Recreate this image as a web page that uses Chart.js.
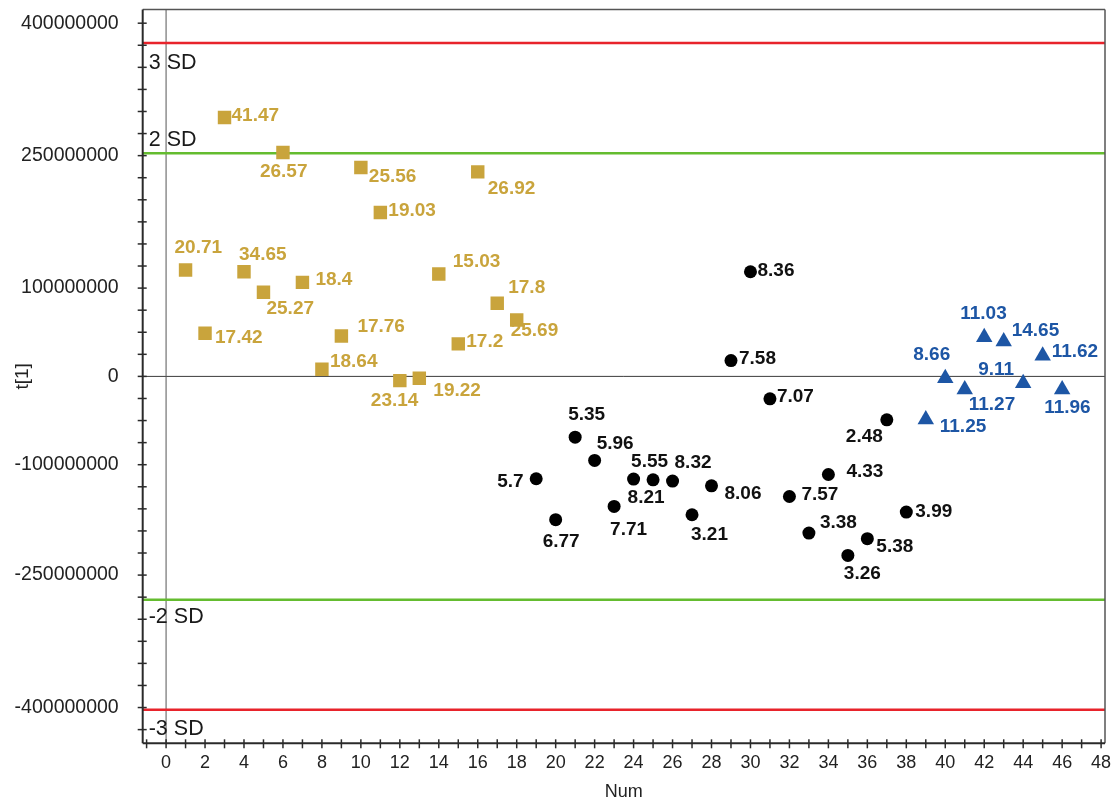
<!DOCTYPE html>
<html>
<head>
<meta charset="utf-8">
<script src="https://cdn.jsdelivr.net/npm/chart.js@4.4.1/dist/chart.umd.min.js"></script>
<style>
  html, body { margin: 0; padding: 0; background: #fff; }
  #wrap { width: 1116px; height: 803px; }
</style>
</head>
<body>
<div id="wrap"><canvas id="scores"></canvas></div>
<script>
// Score plot t[1] vs sample number, three groups
const goldNum = [1, 2, 3, 4, 5, 6, 7, 8, 9, 10, 11, 12, 13, 14, 15, 16, 17, 18];
const goldT = [120500000, 48900000, 293200000, 118500000, 95200000, 253600000, 106500000, 8100000, 45800000,
               236600000, 185700000, -4800000, -2000000, 115900000, 36800000, 231600000, 82800000, 63900000];
const goldLabels = ['20.71', '17.42', '41.47', '34.65', '25.27', '26.57', '18.4', '18.64', '17.76',
                    '25.56', '19.03', '23.14', '19.22', '15.03', '17.2', '26.92', '17.8', '25.69'];

const blackNum = [19, 20, 21, 22, 23, 24, 25, 26, 27, 28, 29, 30, 31, 32, 33, 34, 35, 36, 37, 38];
const blackT = [-115900000, -162300000, -68800000, -95200000, -147300000, -116300000, -117100000, -118500000,
                -156700000, -123900000, 17900000, 118500000, -25400000, -136000000, -177400000, -111100000,
                -202700000, -183800000, -49200000, -153600000];
const blackLabels = ['5.7', '6.77', '5.35', '5.96', '7.71', '8.21', '5.55', '8.32', '3.21', '8.06',
                     '7.58', '8.36', '7.07', '7.57', '3.38', '4.33', '3.26', '5.38', '2.48', '3.99'];

const blueNum = [39, 40, 41, 42, 43, 44, 45, 46];
const blueT = [-48800000, -2100000, -14900000, 44200000, 39400000, -7800000, 23500000, -14900000];
const blueLabels = ['11.25', '8.66', '11.27', '11.03', '14.65', '9.11', '11.62', '11.96'];

// control limits
const sdValues = [377500000, 252800000, -252800000, -377500000];
const sdNames = ['3 SD', '2 SD', '-2 SD', '-3 SD'];

// axis ticks
const xTickValues = [-1, 0, 1, 2, 3, 4, 5, 6, 7, 8, 9, 10, 11, 12, 13, 14, 15, 16, 17, 18, 19, 20, 21, 22, 23, 24,
                     25, 26, 27, 28, 29, 30, 31, 32, 33, 34, 35, 36, 37, 38, 39, 40, 41, 42, 43, 44, 45, 46, 47, 48];
const yLabelValues = [400000000, 250000000, 100000000, 0, -100000000, -225000000, -375000000];
const yLabelTexts = ['400000000', '250000000', '100000000', '0', '-100000000', '-250000000', '-400000000'];
const yMinorStep = 25000000;

// label placement (text left / middle, relative to the point)
const goldOffsets = [[-11, -22], [10, 5], [7, -2], [-5, -17], [3, 16], [-23, 19], [13, -3], [8, -7], [16, -9],
                     [8, 9], [8, -2], [-29, 20], [14, 13], [14, -12], [8, -2], [10, 17], [11, -16], [-6, 11]];
const blackOffsets = [[-39, 3], [-13, 22], [-7, -22], [2, -17], [-4, 23], [-6, 19], [-22, -18], [2, -18],
                      [-1, 20], [13, 8], [8, -2], [7, -1], [7, -2], [12, -2], [11, -10], [18, -3], [-4, 18],
                      [9, 8], [-41, 17], [9, 0]];
const blueOffsets = [[14, 7], [-32, -23], [4, 15], [-24, -24], [8, -11], [-45, -14], [9, -4], [-18, 18]];

const GOLD = '#C9A43C';
const BLUE = '#1D56A5';
const FONT = "'Liberation Sans', Arial, sans-serif";

const yMinorTicks = [];
for (let v = -400000000; v <= 400000000; v += yMinorStep) yMinorTicks.push(v);

function toPoints(xs, ys) {
    return xs.map((x, i) => ({ x: x, y: ys[i] }));
}

function strokeLine(ctx, x1, y1, x2, y2) {
    ctx.beginPath();
    ctx.moveTo(x1, y1);
    ctx.lineTo(x2, y2);
    ctx.stroke();
}

const decor = {
    id: 'decor',
    beforeDatasetsDraw(chart) {
        const { ctx, chartArea: a, scales: { x, y } } = chart;
        ctx.save();
        ctx.strokeStyle = '#3a3a3a';
        ctx.lineWidth = 1;
        const y0 = y.getPixelForValue(0);
        const x0 = x.getPixelForValue(0);
        strokeLine(ctx, a.left, y0, a.right, y0);
        ctx.strokeStyle = '#555';
        strokeLine(ctx, x0, a.top, x0, a.bottom);

        ctx.lineWidth = 2.5;
        sdValues.forEach(v => {
            ctx.strokeStyle = Math.abs(v) > 300000000 ? '#E8232B' : '#64BC2F';
            const py = y.getPixelForValue(v);
            strokeLine(ctx, a.left, py, a.right, py);
        });
        ctx.restore();
    },
    afterDatasetsDraw(chart) {
        const { ctx } = chart;
        ctx.save();
        ctx.font = 'bold 19px ' + FONT;
        ctx.textAlign = 'left';
        ctx.textBaseline = 'middle';
        chart.data.datasets.forEach((ds, i) => {
            const meta = chart.getDatasetMeta(i);
            ctx.fillStyle = ds.labelColor;
            meta.data.forEach((pt, j) => {
                const off = ds.labelOffsets[j];
                ctx.fillText(ds.pointLabels[j], pt.x + off[0], pt.y + off[1]);
            });
        });
        ctx.restore();
    },
    afterDraw(chart) {
        const { ctx, chartArea: a, scales: { x, y } } = chart;
        ctx.save();
        // frame
        ctx.strokeStyle = '#555';
        ctx.lineWidth = 1.5;
        strokeLine(ctx, a.left, a.top, a.right, a.top);
        strokeLine(ctx, a.right, a.top, a.right, a.bottom);
        ctx.strokeStyle = '#2a2a2a';
        ctx.lineWidth = 2;
        strokeLine(ctx, a.left, a.top, a.left, a.bottom);
        strokeLine(ctx, a.left, a.bottom, a.right, a.bottom);

        // tick marks crossing the axes
        ctx.lineWidth = 1.5;
        yMinorTicks.forEach(v => {
            const py = y.getPixelForValue(v);
            strokeLine(ctx, a.left - 5, py, a.left + 4, py);
        });
        xTickValues.forEach(v => {
            const px = x.getPixelForValue(v);
            strokeLine(ctx, px, a.bottom - 4, px, a.bottom + 5);
        });

        // SD captions
        ctx.fillStyle = '#1a1a1a';
        ctx.font = '21.5px ' + FONT;
        ctx.textAlign = 'left';
        ctx.textBaseline = 'middle';
        const captionShift = [20, -13, 17, 19];
        sdValues.forEach((v, i) => {
            ctx.fillText(sdNames[i], a.left + 6, y.getPixelForValue(v) + captionShift[i]);
        });
        ctx.restore();
    }
};

new Chart(document.getElementById('scores'), {
    type: 'scatter',
    data: {
        datasets: [
            {
                data: toPoints(goldNum, goldT),
                pointStyle: 'rect', pointRadius: 9.5,
                backgroundColor: GOLD, borderColor: GOLD, borderWidth: 0,
                pointLabels: goldLabels, labelOffsets: goldOffsets, labelColor: GOLD
            },
            {
                data: toPoints(blackNum, blackT),
                pointStyle: 'circle', pointRadius: 6.5,
                backgroundColor: '#000', borderColor: '#000', borderWidth: 0,
                pointLabels: blackLabels, labelOffsets: blackOffsets, labelColor: '#111'
            },
            {
                data: toPoints(blueNum, blueT),
                pointStyle: 'triangle', pointRadius: 9.5,
                backgroundColor: BLUE, borderColor: BLUE, borderWidth: 0,
                pointLabels: blueLabels, labelOffsets: blueOffsets, labelColor: BLUE
            }
        ]
    },
    options: {
        responsive: true,
        maintainAspectRatio: false,
        animation: false,
        devicePixelRatio: 1,
        layout: { padding: { top: 8.5, right: 11, bottom: 0, left: 0 } },
        plugins: {
            legend: { display: false },
            tooltip: { enabled: false }
        },
        scales: {
            x: {
                type: 'linear',
                min: -1.2,
                max: 48.2,
                grid: { display: false, drawTicks: false },
                border: { display: false },
                afterBuildTicks: s => { s.ticks = xTickValues.map(v => ({ value: v })); },
                afterFit: s => {
                    s.height = 59.7;
                    s.paddingLeft = 0;
                    s.paddingRight = 0;
                },
                ticks: {
                    autoSkip: false,
                    maxRotation: 0,
                    padding: 9,
                    color: '#222',
                    font: { family: FONT, size: 18 },
                    callback: v => (v >= 0 && v % 2 === 0) ? String(v) : ''
                },
                title: {
                    display: true,
                    text: 'Num',
                    color: '#222',
                    font: { family: FONT, size: 18 },
                    padding: { top: 0, bottom: 0 }
                }
            },
            y: {
                type: 'linear',
                min: -415500000,
                max: 415500000,
                grid: { display: false, drawTicks: false },
                border: { display: false },
                afterBuildTicks: s => { s.ticks = yMinorTicks.map(v => ({ value: v })); },
                afterFit: s => {
                    s.width = 142.7;
                    s.paddingTop = 0;
                    s.paddingBottom = 0;
                },
                ticks: {
                    autoSkip: false,
                    padding: 24,
                    color: '#222',
                    font: { family: FONT, size: 19.5 },
                    callback: v => {
                        const k = yLabelValues.indexOf(v);
                        return k >= 0 ? yLabelTexts[k] : '';
                    }
                },
                title: {
                    display: true,
                    text: 't[1]',
                    color: '#222',
                    font: { family: FONT, size: 19 },
                    padding: { top: 11, bottom: 0 }
                }
            }
        }
    },
    plugins: [decor]
});
</script>
</body>
</html>
